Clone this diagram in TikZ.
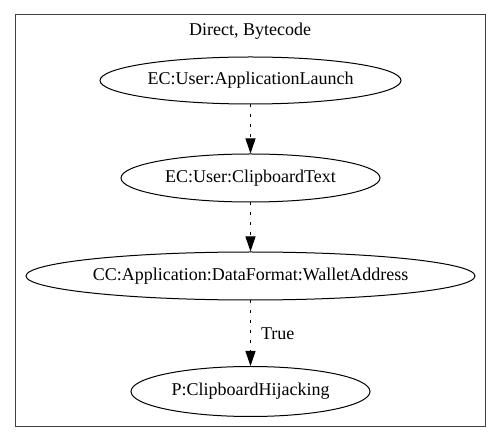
\documentclass[tikz,border=0pt]{standalone}
\usepackage{fontspec}
\setmainfont{Liberation Serif}
\usetikzlibrary{shapes.geometric,arrows.meta}
\begin{document}
\begin{tikzpicture}[x=1pt,y=-1pt,
  nd/.style={ellipse,draw,line width=1pt,inner sep=0pt,font=\fontsize{18}{20}\selectfont},
  edge/.style={line width=1pt,dash pattern=on 3pt off 7pt,-{Triangle[length=15pt,width=10pt]}},
  lbl/.style={font=\fontsize{18}{20}\selectfont,inner sep=0pt}]
\useasboundingbox (0,0) rectangle (501,443);
\node[draw=black!75,line width=1pt,minimum width=470pt,minimum height=412pt,inner sep=0pt] (frame) at (250,221) {};
\node[lbl] (title) at (250,31) {Direct, Bytecode};
\node[nd,minimum width=301pt,minimum height=47pt] (a) at (250.5,80.5) {EC:User:ApplicationLaunch};
\node[nd,minimum width=259pt,minimum height=48pt] (b) at (250.5,178) {EC:User:ClipboardText};
\node[nd,minimum width=449pt,minimum height=48pt] (c) at (250.5,276) {CC:Application:DataFormat:WalletAddress};
\node[nd,minimum width=239pt,minimum height=50pt] (d) at (250.5,391.5) {P:ClipboardHijacking};
\draw[edge] (a.south) -- (b.north);
\draw[edge] (b.south) -- (c.north);
\draw[edge] (c.south) -- node[lbl,right=10pt] (t) {True} (d.north);
\end{tikzpicture}
\end{document}
